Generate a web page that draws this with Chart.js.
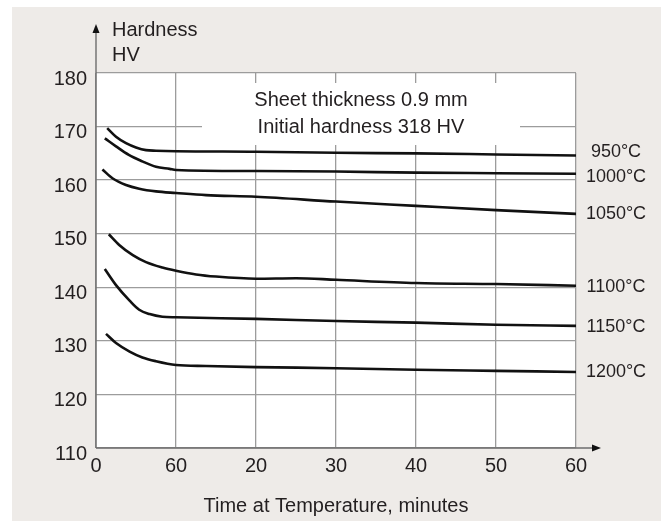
<!DOCTYPE html>
<html>
<head>
<meta charset="utf-8">
<script src="https://cdn.jsdelivr.net/npm/chart.js@4/dist/chart.umd.min.js"></script>
<style>
  html, body { margin: 0; padding: 0; background: #fff; }
  #wrap { width: 661px; height: 522px; }
</style>
</head>
<body>
<div id="wrap"><canvas id="hardnessChart" width="661" height="522"></canvas></div>
<script>
// Temperatures (curve labels)
const temps = ['950°C', '1000°C', '1050°C', '1100°C', '1150°C', '1200°C'];

// Time (minutes) and hardness (HV)
const t950 = [1.4, 2.5, 3.75, 5, 6.25, 7.5, 10, 20, 30, 40, 50, 60];
const hv950 = [169.7, 168.1, 166.9, 166.1, 165.6, 165.5, 165.4, 165.3, 165.1, 165.0, 164.8, 164.6];

const t1000 = [1.1, 2.5, 4.1, 5.8, 7.5, 9.2, 10, 20, 30, 40, 50, 60];
const hv1000 = [167.8, 166.3, 164.7, 163.5, 162.5, 162.1, 161.9, 161.7, 161.6, 161.4, 161.3, 161.2];

const t1050 = [0.8, 2.1, 3.75, 5.4, 7.5, 10, 13.75, 20, 30, 40, 50, 60];
const hv1050 = [162.0, 160.3, 159.1, 158.4, 157.9, 157.6, 157.2, 156.9, 156.0, 155.2, 154.4, 153.7];

const t1100 = [1.6, 2.9, 4.6, 6.25, 8.3, 10, 12.5, 15, 20, 25, 30, 40, 50, 60];
const hv1100 = [149.9, 147.9, 146.0, 144.7, 143.7, 143.1, 142.4, 142.0, 141.6, 141.7, 141.4, 140.8, 140.6, 140.3];

const t1150 = [1.1, 2.5, 4.2, 5.4, 6.7, 8.3, 10, 20, 30, 40, 50, 60];
const hv1150 = [143.4, 140.4, 137.5, 135.8, 135.0, 134.5, 134.4, 134.1, 133.7, 133.4, 133.0, 132.8];

const t1200 = [1.25, 2.5, 4.2, 5.8, 7.5, 10, 13.75, 20, 30, 40, 50, 60];
const hv1200 = [131.3, 129.6, 128.0, 126.9, 126.2, 125.5, 125.3, 125.1, 124.9, 124.6, 124.4, 124.2];

// Tick labels as printed on the original axis
const xTickLabels = ['0', '60', '20', '30', '40', '50', '60'];

const seriesTimes = [t950, t1000, t1050, t1100, t1150, t1200];
const seriesValues = [hv950, hv1000, hv1050, hv1100, hv1150, hv1200];

const FONT = '"Liberation Sans", Arial, Helvetica, sans-serif';
const TEXT = '#231f20';

const datasets = temps.map((label, i) => ({
    label: label,
    data: seriesTimes[i].map((t, j) => ({ x: t, y: seriesValues[i][j] })),
    borderColor: '#111',
    borderWidth: 2.6,
    pointRadius: 0,
    fill: false,
    cubicInterpolationMode: 'monotone'
}));

// Backgrounds, annotation box, axis arrows and text labels
const decorPlugin = {
    id: 'decor',
    beforeDraw(chart) {
        const { ctx, chartArea: a } = chart;
        ctx.save();
        ctx.fillStyle = '#fff';
        ctx.fillRect(0, 0, chart.width, chart.height);
        ctx.fillStyle = '#eeebe8';
        ctx.fillRect(12, 7, chart.width - 12, chart.height - 8);
        ctx.fillStyle = '#fff';
        ctx.fillRect(a.left, a.top, a.right - a.left, a.bottom - a.top);
        ctx.restore();
    },
    beforeDatasetsDraw(chart) {
        const { ctx } = chart;
        ctx.save();
        // note box hides the grid behind it
        ctx.fillStyle = '#fff';
        ctx.fillRect(202, 83, 318, 62);
        ctx.fillStyle = TEXT;
        ctx.font = '20px ' + FONT;
        ctx.textAlign = 'center';
        ctx.textBaseline = 'middle';
        ctx.fillText('Sheet thickness 0.9 mm', 361, 100);
        ctx.fillText('Initial hardness 318 HV', 361, 127);
        ctx.restore();
    },
    afterDraw(chart) {
        const { ctx, chartArea: a } = chart;
        ctx.save();
        // axes with arrows
        ctx.strokeStyle = '#6e6e6e';
        ctx.lineWidth = 1.4;
        ctx.beginPath();
        ctx.moveTo(a.left, a.bottom);
        ctx.lineTo(a.left, 30);
        ctx.moveTo(a.left, a.bottom);
        ctx.lineTo(595, a.bottom);
        ctx.stroke();
        ctx.fillStyle = '#111';
        ctx.beginPath();
        ctx.moveTo(a.left, 24);
        ctx.lineTo(a.left - 3.5, 33);
        ctx.lineTo(a.left + 3.5, 33);
        ctx.closePath();
        ctx.fill();
        ctx.beginPath();
        ctx.moveTo(601, a.bottom);
        ctx.lineTo(592, a.bottom - 3.5);
        ctx.lineTo(592, a.bottom + 3.5);
        ctx.closePath();
        ctx.fill();

        // axis titles
        ctx.fillStyle = TEXT;
        ctx.font = '20px ' + FONT;
        ctx.textBaseline = 'middle';
        ctx.textAlign = 'left';
        ctx.fillText('Hardness', 112, 30);
        ctx.fillText('HV', 112, 55);
        ctx.textAlign = 'center';
        ctx.fillText('Time at Temperature, minutes', (a.left + a.right) / 2, 506);

        // curve labels at the end of each line
        const nudge = [-3, 3, 0, 1, 1, 0];
        ctx.font = '18px ' + FONT;
        chart.data.datasets.forEach((ds, i) => {
            const meta = chart.getDatasetMeta(i);
            const last = meta.data[meta.data.length - 1];
            ctx.fillText(ds.label, a.right + 40, last.y + nudge[i]);
        });
        ctx.restore();
    }
};

new Chart(document.getElementById('hardnessChart').getContext('2d'), {
    type: 'line',
    data: { datasets: datasets },
    options: {
        responsive: false,
        animation: false,
        layout: { padding: { top: 73, right: 85, left: 0, bottom: 0 } },
        plugins: { legend: { display: false }, tooltip: { enabled: false } },
        scales: {
            x: {
                type: 'linear',
                min: 0,
                max: 60,
                afterFit: (s) => { s.height = 74; },
                border: { display: false },
                grid: { color: '#9c9c9c', lineWidth: 1.3, drawTicks: false },
                ticks: {
                    stepSize: 10,
                    padding: 6,
                    color: TEXT,
                    font: { family: FONT, size: 20 },
                    callback: (v) => xTickLabels[Math.round(v / 10)]
                }
            },
            y: {
                min: 110,
                max: 180,
                afterFit: (s) => { s.width = 96; },
                border: { display: false },
                grid: { color: '#9c9c9c', lineWidth: 1.3, drawTicks: false },
                ticks: {
                    stepSize: 10,
                    padding: 9,
                    labelOffset: 6,
                    color: TEXT,
                    font: { family: FONT, size: 20 }
                }
            }
        }
    },
    plugins: [decorPlugin]
});
</script>
</body>
</html>
